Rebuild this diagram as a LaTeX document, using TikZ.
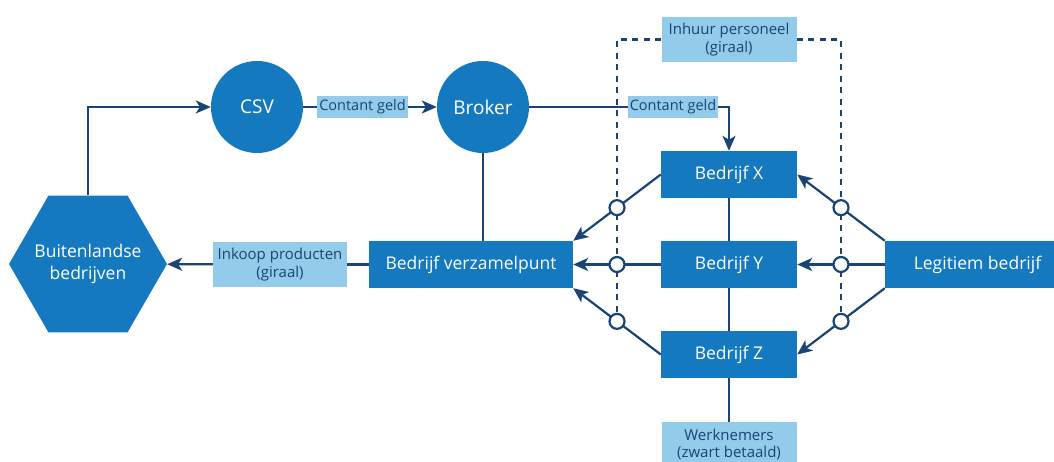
\documentclass[tikz,border=0pt]{standalone}
\usepackage{fontspec}
\setmainfont{Open Sans}
\usetikzlibrary{shapes.geometric,arrows.meta}

\definecolor{rijkblauw}{RGB}{21,121,191}
\definecolor{lichtblauw}{RGB}{147,204,234}
\definecolor{donkerblauw}{RGB}{26,68,115}

\begin{document}
\begin{tikzpicture}[x=1pt,y=-1pt,
  box/.style={fill=rijkblauw,text=white,minimum height=47pt,inner sep=0pt,font=\fontsize{17.5}{20}\selectfont},
  tag/.style={fill=lichtblauw,text=donkerblauw,inner sep=0pt,align=center,font=\fontsize{15}{17.5}\selectfont},
  flow/.style={donkerblauw,line width=2.2pt},
  pijl/.style={flow,-{Stealth[length=15pt,width=13pt,inset=4pt]}},
  ring/.style={circle,draw=donkerblauw,line width=2.2pt,fill=white,minimum size=15pt,inner sep=0pt},
  stippel/.style={donkerblauw,line width=2.2pt,dash pattern=on 6pt off 5.5pt}]
\clip (0,0) rectangle (1054,462);

\node[regular polygon,regular polygon sides=6,minimum size=158pt,inner sep=-12pt,fill=rijkblauw,text=white,align=center,font=\fontsize{17.5}{22}\selectfont] (buiten) at (88,264) {Buitenlandse\\bedrijven};
\node[circle,minimum size=92pt,inner sep=0pt,fill=rijkblauw,text=white,font=\fontsize{19}{21}\selectfont] (csv) at (257,107) {CSV};
\node[circle,minimum size=92pt,inner sep=0pt,fill=rijkblauw,text=white,font=\fontsize{19}{21}\selectfont] (broker) at (483,107) {Broker};

\node[tag,minimum width=91pt,minimum height=22pt,font=\fontsize{14.5}{17}\selectfont] (geld1) at (362.5,107) {Contant geld};
\node[tag,minimum width=90pt,minimum height=22pt,font=\fontsize{14.5}{17}\selectfont] (geld2) at (673,107) {Contant geld};
\node[tag,minimum width=135pt,minimum height=45pt] (inhuur) at (729,39.5) {Inhuur personeel\\(giraal)};
\node[tag,minimum width=134pt,minimum height=45pt] (inkoop) at (280,264.5) {Inkoop producten\\(giraal)};
\node[tag,minimum width=135pt,minimum height=45pt] (werk) at (729,444.5) {Werknemers\\(zwart betaald)};

\node[box,minimum width=204pt] (verzamel) at (471,264.5) {Bedrijf verzamelpunt};
\node[box,minimum width=136pt] (bx) at (729,174.5) {Bedrijf X};
\node[box,minimum width=136pt] (by) at (729,264.5) {Bedrijf Y};
\node[box,minimum width=136pt] (bz) at (729,354.5) {Bedrijf Z};
\node[box,minimum width=185pt] (legitiem) at (977.5,264.5) {Legitiem bedrijf};

\draw[pijl] (buiten.north) |- (csv.west);
\draw[flow] (csv) -- (geld1);
\draw[pijl] (geld1) -- (broker);
\draw[flow] (broker) -- (geld2);
\draw[pijl] (geld2.east) -| (bx.north);
\draw[flow] (broker.south) -- (broker.south |- verzamel.north);
\draw[flow] (verzamel) -- (inkoop);
\draw[pijl] (inkoop) -- (buiten);
\draw[flow] (bx) -- (by);
\draw[flow] (by) -- (bz);
\draw[flow] (bz) -- (werk);

\draw[pijl] (bx.west) -- coordinate[midway] (lx) (verzamel.north east);
\draw[pijl] (by.west) -- coordinate[midway] (ly) (verzamel.east);
\draw[pijl] (bz.west) -- coordinate[midway] (lz) (verzamel.south east);
\draw[pijl] (legitiem.north west) -- coordinate[midway] (rx) (bx.east);
\draw[pijl] (legitiem.west) -- coordinate[midway] (ry) (by.east);
\draw[pijl] (legitiem.south west) -- coordinate[midway] (rz) (bz.east);

\draw[stippel] (inhuur.west) -| (lz);
\draw[stippel] (inhuur.east) -| (rz);

\node[ring] (ringlx) at (lx) {};
\node[ring] (ringly) at (ly) {};
\node[ring] (ringlz) at (lz) {};
\node[ring] (ringrx) at (rx) {};
\node[ring] (ringry) at (ry) {};
\node[ring] (ringrz) at (rz) {};
\end{tikzpicture}
\end{document}
